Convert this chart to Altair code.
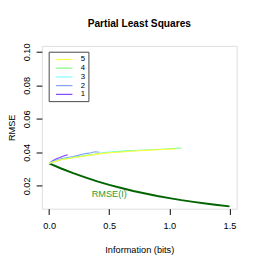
import altair as alt
import pandas as pd

# RMSE(I) curve
info_x = [0.0, 0.1, 0.2, 0.3, 0.4, 0.5, 0.6, 0.7, 0.8, 0.9, 1.0, 1.1, 1.2, 1.3, 1.4, 1.5]
rmse_i = [0.0335, 0.0304, 0.0276, 0.0251, 0.0227, 0.0206, 0.0188, 0.0170, 0.0155,
          0.0140, 0.0127, 0.0115, 0.0105, 0.0095, 0.0086, 0.0078]

# PLS component series
s1_x = [0.0, 0.03, 0.06, 0.09, 0.12, 0.155]
s1_y = [0.0335, 0.0350, 0.0362, 0.0370, 0.0379, 0.0386]
s2_x = [0.0, 0.05, 0.10, 0.15, 0.20, 0.25, 0.30, 0.35, 0.38, 0.42]
s2_y = [0.0335, 0.0352, 0.0362, 0.0369, 0.0375, 0.0384, 0.0393, 0.0398, 0.0404, 0.0401]
s3_x = [0.0, 0.08, 0.16, 0.24, 0.32, 0.38, 0.45, 0.55, 0.65, 0.72]
s3_y = [0.0335, 0.0355, 0.0366, 0.0374, 0.0385, 0.0386, 0.0400, 0.0406, 0.0412, 0.0410]
s4_x = [0.0, 0.1, 0.2, 0.3, 0.4, 0.5, 0.6, 0.7, 0.8, 0.9, 1.0, 1.1]
s4_y = [0.0335, 0.0357, 0.0370, 0.0381, 0.0392, 0.0400, 0.0405, 0.0410, 0.0414, 0.0418, 0.0422, 0.0427]
s5_x = [0.0, 0.1, 0.2, 0.3, 0.4, 0.5, 0.6, 0.7, 0.8, 0.9, 1.05]
s5_y = [0.0335, 0.0356, 0.0368, 0.0379, 0.0390, 0.0398, 0.0403, 0.0408, 0.0412, 0.0416, 0.0420]

series_names = ["5", "4", "3", "2", "1"]
series_colors = ["#FFFF40", "#80FF80", "#80FFFF", "#80A0FF", "#8040FF"]

label_text = ["RMSE(I)"]
label_x = [0.5]
label_y = [0.0153]

x_ticks = [0.0, 0.5, 1.0, 1.5]
y_ticks = [0.02, 0.04, 0.06, 0.08, 0.10]

rows = []
for name, xs, ys in zip(["1", "2", "3", "4", "5"], [s1_x, s2_x, s3_x, s4_x, s5_x], [s1_y, s2_y, s3_y, s4_y, s5_y]):
    for i, (a, b) in enumerate(zip(xs, ys)):
        rows.append({"series": name, "x": a, "y": b, "order": i})
df = pd.DataFrame(rows)
curve = pd.DataFrame({"x": info_x, "y": rmse_i})
lab = pd.DataFrame({"t": label_text, "x": label_x, "y": label_y})

FONT = "Liberation Sans"
xscale = alt.Scale(domain=[-0.06, 1.56], nice=False, zero=False)
yscale = alt.Scale(domain=[0.0064, 0.1036], nice=False, zero=False)

xaxis = alt.Axis(values=x_ticks, format=".1f", title="Information (bits)", grid=False,
                 domain=False, tickColor="black", tickSize=6, labelFontSize=9.5,
                 labelColor="black", labelPadding=6, titleFontSize=9.5, titleFont=FONT,
                 labelFont=FONT, titleFontWeight="normal", titlePadding=16, titleColor="black")
yaxis = alt.Axis(values=y_ticks, format=".2f", title="RMSE", grid=False, domain=False,
                 tickColor="black", tickSize=6, labelFontSize=9.5, labelAngle=270,
                 labelAlign="center", labelBaseline="bottom", labelPadding=5,
                 labelColor="black", titleFontSize=9.5, titleFont=FONT, labelFont=FONT,
                 titleFontWeight="normal", titleX=-31, titleY=84, titleAngle=270,
                 titleAlign="center", titleBaseline="middle", titleColor="black")

lines = alt.Chart(df).mark_line(strokeWidth=1.1).encode(
    x=alt.X("x:Q", scale=xscale, axis=xaxis),
    y=alt.Y("y:Q", scale=yscale, axis=yaxis),
    color=alt.Color("series:N",
                    scale=alt.Scale(domain=series_names, range=series_colors),
                    legend=alt.Legend(title=None, orient="none", legendX=7, legendY=6,
                                      strokeColor="#444444", padding=3,
                                      symbolType="M-2,0H2", symbolSize=72,
                                      symbolOffset=8,
                                      symbolStrokeWidth=1.2, labelFontSize=8,
                                      labelFont=FONT, labelColor="black",
                                      rowPadding=-3, labelOffset=12, cornerRadius=0)),
    order="order:Q",
)

rmse_line = alt.Chart(curve).mark_line(color="#006400", strokeWidth=2).encode(
    x=alt.X("x:Q", scale=xscale),
    y=alt.Y("y:Q", scale=yscale),
)

text = alt.Chart(lab).mark_text(color="#2E9B2E", fontSize=9.5, font=FONT).encode(
    x=alt.X("x:Q", scale=xscale),
    y=alt.Y("y:Q", scale=yscale),
    text="t:N",
)

chart = alt.layer(rmse_line, lines, text).properties(
    width=201, height=168,
    title=alt.TitleParams("Partial Least Squares", fontSize=10.5, font=FONT,
                          fontWeight="bold", anchor="middle", offset=14, color="black"),
    autosize=alt.AutoSizeParams(type="none"),
    padding={"left": 35, "top": 35, "right": 22, "bottom": 55},
).configure_view(stroke="black", strokeWidth=1).configure(background="white")

chart.save("out.html", embed_options={"renderer": "svg", "actions": False})
